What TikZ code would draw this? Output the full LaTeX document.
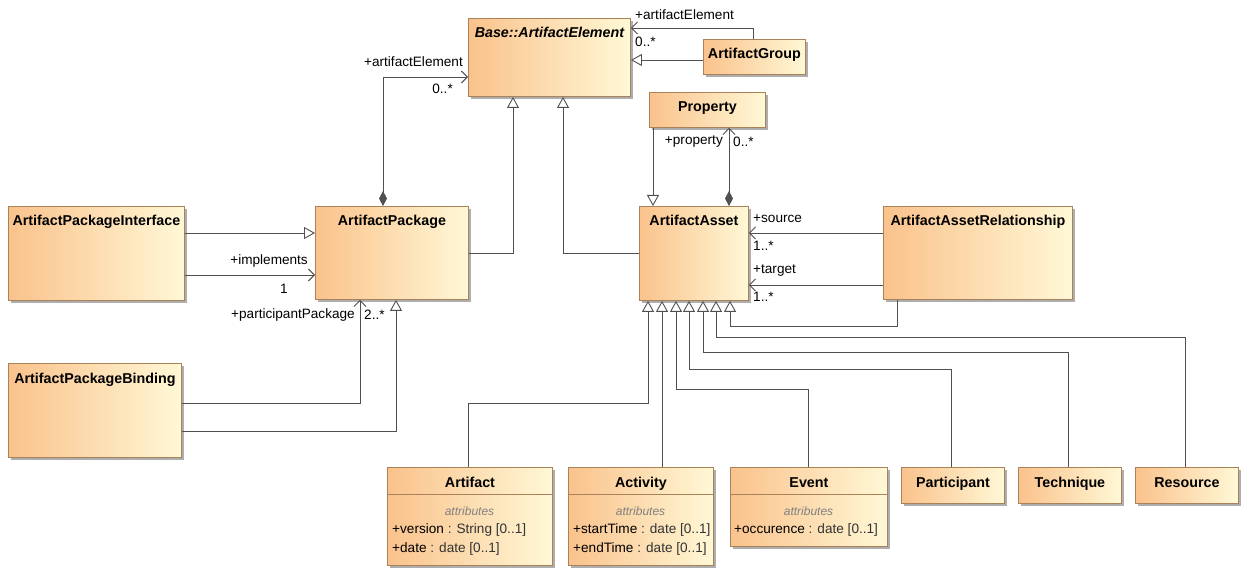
\documentclass[tikz,border=0pt]{standalone}
\usepackage{fontspec}
\setmainfont{Liberation Sans}
\usetikzlibrary{arrows.meta,shadows}
\definecolor{boxL}{RGB}{250,194,140}
\definecolor{boxR}{RGB}{255,248,214}
\definecolor{boxB}{RGB}{170,130,90}
\definecolor{lineC}{RGB}{80,80,80}
\definecolor{attrG}{RGB}{128,128,128}
\newcommand\umlName{\fontsize{14.3}{16}\selectfont\bfseries}
\newcommand\umlLbl{\fontsize{13.6}{15}\selectfont}
\newcommand\umlAttr{\fontsize{13.6}{15}\selectfont}
\newcommand\umlSec{\fontsize{12}{14}\selectfont\itshape}
\newcommand\umlType[1]{{\color{black!80}#1}}
\tikzset{
  umlbox/.style={draw=boxB, line width=0.9pt, inner sep=0pt, anchor=north west,
     left color=boxL, right color=boxR,
     drop shadow={shadow xshift=3pt, shadow yshift=-3pt, fill=black!35, opacity=0.9}},
  clsname/.style={inner sep=0pt, anchor=base, font=\umlName},
  lbl/.style={inner sep=0pt, font=\umlLbl},
  attr/.style={inner sep=0pt, anchor=base west, font=\umlAttr},
  sect/.style={inner sep=0pt, anchor=base, font=\umlSec, text=attrG},
  sep/.style={draw=boxB, line width=0.9pt},
  conn/.style={draw=lineC, line width=0.9pt},
  gen/.style={conn, -{Triangle[open, length=11pt, width=12pt, fill=white]}},
  assoc/.style={conn, -{Straight Barb[length=6pt, width=12pt]}},
  comp/.style={conn, {Diamond[length=15pt, width=8pt, fill=lineC]}-{Straight Barb[length=6pt, width=12pt]}},
}
\newcommand\umlBox[6]{%
  \node[umlbox, minimum width={(#4-#2)*1pt}, minimum height={(#5-#3)*1pt}] (#1) at (#2,#3) {};
  \node[clsname] (#1-n) at ([yshift=-20pt]#1.north) {#6};}
\begin{document}
\begin{tikzpicture}[x=1pt,y=-1pt]
\fill[white] (0,0) rectangle (1242,569);
\useasboundingbox (0,0) rectangle (1242,569);

% boxes
\umlBox{base}{468}{18}{630}{96}{\itshape Base::ArtifactElement}
\umlBox{ag}{703}{39}{805}{74}{ArtifactGroup}
\umlBox{prop}{649}{92}{765}{127}{Property}
\umlBox{pkg}{315}{206}{468}{299}{ArtifactPackage}
\umlBox{pkgi}{8}{206}{184}{300}{ArtifactPackageInterface}
\umlBox{pkgb}{8}{363}{181}{457}{ArtifactPackageBinding}
\umlBox{asset}{639}{206}{748}{300}{ArtifactAsset}
\umlBox{rel}{883}{206}{1072}{299}{ArtifactAssetRelationship}
\umlBox{art}{387}{467}{552}{565}{Artifact}
\umlBox{act}{568}{467}{713}{565}{Activity}
\umlBox{evt}{730}{467}{887}{546}{Event}
\umlBox{part}{901}{467}{1004}{503}{Participant}
\umlBox{tech}{1018}{467}{1121}{503}{Technique}
\umlBox{res}{1135}{467}{1238}{503}{Resource}

% attribute compartments
\draw[sep] ([yshift=-27pt]art.north west) -- ([yshift=-27pt]art.north east);
\node[sect] (art-s) at (469.5,515) {attributes};
\node[attr] (art-a1) at (392,533) {+version \umlType{: String [0..1]}};
\node[attr] (art-a2) at (392,552) {+date \umlType{: date [0..1]}};

\draw[sep] ([yshift=-27pt]act.north west) -- ([yshift=-27pt]act.north east);
\node[sect] (act-s) at (640.5,515) {attributes};
\node[attr] (act-a1) at (573,533) {+startTime \umlType{: date [0..1]}};
\node[attr] (act-a2) at (573,552) {+endTime \umlType{: date [0..1]}};

\draw[sep] ([yshift=-27pt]evt.north west) -- ([yshift=-27pt]evt.north east);
\node[sect] (evt-s) at (808.5,515) {attributes};
\node[attr] (evt-a1) at (734,533) {+occurence \umlType{: date [0..1]}};

% connectors around Base::ArtifactElement
\draw[assoc] ([xshift=50pt]ag.north west) |- ([yshift=-10pt]base.north east);
\draw[gen] ([yshift=-21pt]ag.north west) -- ([yshift=-42pt]base.north east);
\draw[comp] ([xshift=68pt]pkg.north west) |- ([yshift=-59pt]base.north west);
\draw[gen] ([yshift=-47pt]pkg.north east) -| ([xshift=45pt]base.south west);
\draw[gen] ([yshift=-47pt]asset.north west) -| ([xshift=95pt]base.south west);

% package side
\draw[gen] ([yshift=-27pt]pkgi.north east) -- ([yshift=-27pt]pkg.north west);
\draw[assoc] ([yshift=-69pt]pkgi.north east) -- ([yshift=-69pt]pkg.north west);
\draw[assoc] ([yshift=-40pt]pkgb.north east) -| ([xshift=45pt]pkg.south west);
\draw[gen] ([yshift=-68pt]pkgb.north east) -| ([xshift=81pt]pkg.south west);

% asset side
\draw[gen] ([xshift=4pt]prop.south west) -- ([xshift=14pt]asset.north west);
\draw[comp] ([xshift=90pt]asset.north west) -- ([xshift=80pt]prop.south west);
\draw[assoc] ([yshift=-27pt]rel.north west) -- ([yshift=-27pt]asset.north east);
\draw[assoc] ([yshift=-79pt]rel.north west) -- ([yshift=-79pt]asset.north east);
\draw[gen] ([xshift=14pt]rel.south west) -- ++(0,27) -| ([xshift=91pt]asset.south west);

% subclasses
\draw[gen] ([xshift=81pt]art.north west) -- ++(0,-64) -| ([xshift=9pt]asset.south west);
\draw[gen] ([xshift=94pt]act.north west) -- ([xshift=23pt]asset.south west);
\draw[gen] ([xshift=78pt]evt.north west) -- ++(0,-78) -| ([xshift=37pt]asset.south west);
\draw[gen] ([xshift=50pt]part.north west) -- ++(0,-98) -| ([xshift=50pt]asset.south west);
\draw[gen] ([xshift=50pt]tech.north west) -- ++(0,-115) -| ([xshift=64pt]asset.south west);
\draw[gen] ([xshift=50pt]res.north west) -- ++(0,-130) -| ([xshift=77pt]asset.south west);

% role and multiplicity labels
\node[lbl, anchor=west] (l1) at (635,15) {+artifactElement};
\node[lbl, anchor=west] (l2) at (635,42) {0..*};
\node[lbl, anchor=east] (l3) at (463,62) {+artifactElement};
\node[lbl, anchor=east] (l4) at (453,89) {0..*};
\node[lbl, anchor=east] (l5) at (308,261) {+implements};
\node[lbl] (l6) at (284,289) {1};
\node[lbl, anchor=east] (l7) at (355,315) {+participantPackage};
\node[lbl, anchor=west] (l8) at (364,315) {2..*};
\node[lbl, anchor=east] (l9) at (723,142) {+property};
\node[lbl, anchor=west] (l10) at (733,142) {0..*};
\node[lbl, anchor=west] (l11) at (753,219) {+source};
\node[lbl, anchor=west] (l12) at (753,246) {1..*};
\node[lbl, anchor=west] (l13) at (753,271) {+target};
\node[lbl, anchor=west] (l14) at (753,297) {1..*};
\end{tikzpicture}
\end{document}
